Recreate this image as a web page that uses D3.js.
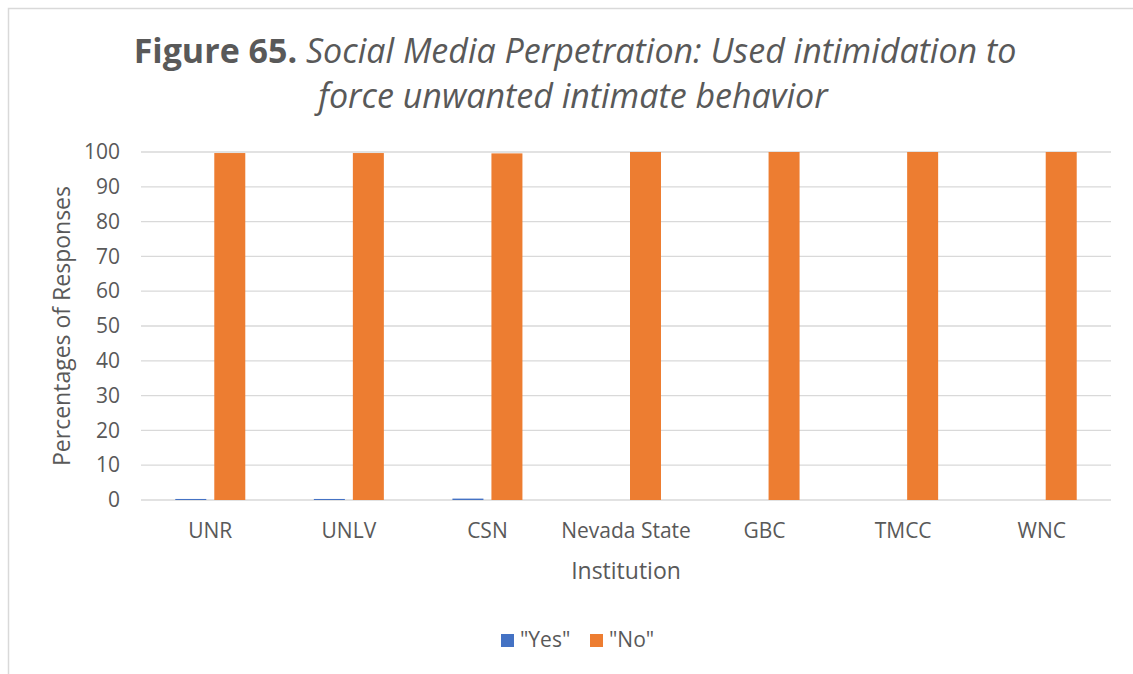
<!DOCTYPE html>
<html><head><meta charset="utf-8">
<script src="https://cdn.jsdelivr.net/npm/d3@7/dist/d3.min.js"></script>
<style>body{margin:0;background:#fff;}svg{display:block;font-family:"Open Sans",sans-serif;}</style>
</head><body>
<svg id="c" width="1133" height="674"></svg>
<script>
const categories = ["UNR","UNLV","CSN","Nevada State","GBC","TMCC","WNC"];
const yesValues = [0.3,0.3,0.4,0,0,0,0];
const noValues = [99.7,99.7,99.6,100,100,100,100];
const seriesNames = ["\"Yes\"","\"No\""];
const yTicks = [0,10,20,30,40,50,60,70,80,90,100];
const colors = ["#4472C4","#ED7D31"];

(function(){
const svg = d3.select("#c");
svg.append("rect").attr("x",0).attr("y",0).attr("width",1133).attr("height",674).attr("fill","#fff");
// chart border
svg.append("path").attr("d","M8.5,674 V8.5 H1133").attr("fill","none").attr("stroke","#d9d9d9").attr("stroke-width",1.5);

const pLeft=141, pRight=1111, pTop=152, pBottom=500;
const x = d3.scaleBand().domain(categories).range([pLeft,pRight]).paddingInner(0).paddingOuter(0);
const y = d3.scaleLinear().domain([0,100]).range([pBottom,pTop]);
const barW = 31, gap = 8;

// grid
svg.append("g").selectAll("line").data(yTicks).join("line")
  .attr("x1",pLeft).attr("x2",pRight).attr("y1",d=>y(d)).attr("y2",d=>y(d))
  .attr("stroke","#d9d9d9").attr("stroke-width",1.3);

const data = categories.map((c,i)=>({c, v:[yesValues[i],noValues[i]]}));
const g = svg.append("g");
data.forEach(d=>{
  const cx = x(d.c)+x.bandwidth()/2;
  d.v.forEach((v,j)=>{
    const bx = j===0 ? cx - gap/2 - barW : cx + gap/2;
    g.append("rect").attr("x",bx).attr("width",barW)
      .attr("y",y(v)).attr("height",Math.max(0,y(0)-y(v)))
      .attr("fill",colors[j]);
  });
});

// y axis labels
const yAxis = d3.axisLeft(y).tickValues(yTicks).tickSize(0).tickPadding(0);
const ya = svg.append("g").attr("transform",`translate(${pLeft-21},0)`).call(yAxis);
ya.select(".domain").remove();
ya.selectAll("text").attr("fill","#595959").style("font-size","21px").style("font-family","'Open Sans',sans-serif");

// x axis labels
const xAxis = d3.axisBottom(x).tickSize(0).tickPadding(0);
const xa = svg.append("g").attr("transform",`translate(0,${pBottom+23})`).call(xAxis);
xa.select(".domain").remove();
xa.selectAll("text").attr("fill","#595959").style("font-size","21px").style("font-family","'Open Sans',sans-serif");

// axis titles
svg.append("text").attr("x",626).attr("y",579).attr("text-anchor","middle")
  .attr("fill","#595959").style("font-size","23px").text("Institution");
svg.append("text").attr("transform","translate(70,326) rotate(-90)").attr("text-anchor","middle")
  .attr("fill","#595959").style("font-size","23px").text("Percentages of Responses");

// title
const t1 = svg.append("text").attr("x",575).attr("y",63).attr("text-anchor","middle")
  .attr("fill","#595959").style("font-size","34px");
t1.append("tspan").attr("font-weight","bold").text("Figure 65. ");
t1.append("tspan").attr("font-style","italic").text("Social Media Perpetration: Used intimidation to");
svg.append("text").attr("x",573).attr("y",108).attr("text-anchor","middle")
  .attr("fill","#595959").style("font-size","34px").attr("font-style","italic")
  .text("force unwanted intimate behavior");

// legend
const legend = svg.append("g");
const lx = [501, 590];
seriesNames.forEach((n,i)=>{
  legend.append("rect").attr("x",lx[i]).attr("y",634).attr("width",13).attr("height",13).attr("fill",colors[i]);
  legend.append("text").attr("x",lx[i]+19).attr("y",647).attr("fill","#595959").style("font-size","21px").text(n);
});
})();
</script>
</body></html>
